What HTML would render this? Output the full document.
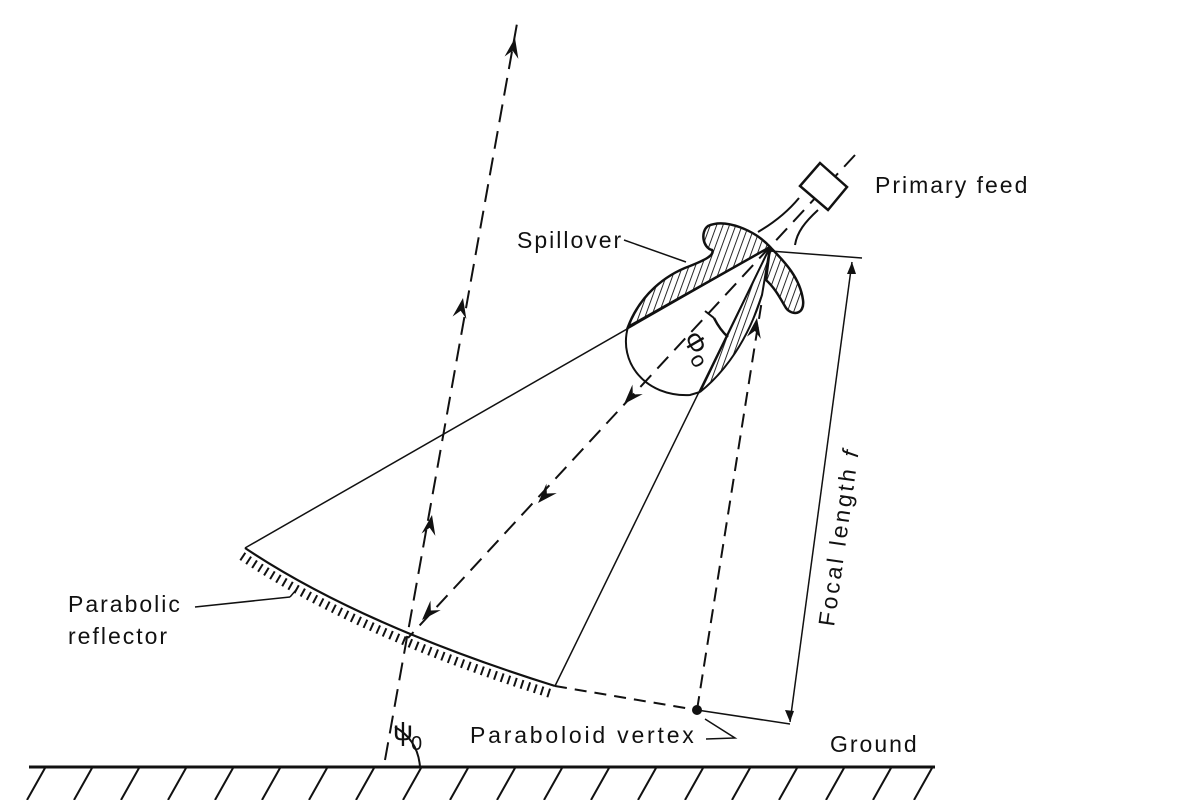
<!DOCTYPE html>
<html><head><meta charset="utf-8"><style>
html,body{margin:0;padding:0;background:#fff;}
svg{display:block;}
text{font-family:"Liberation Sans",sans-serif;fill:#111;}
</style></head><body>
<svg width="1201" height="800" viewBox="0 0 1201 800" xmlns="http://www.w3.org/2000/svg">
<defs>
<pattern id="h" width="6" height="6" patternUnits="userSpaceOnUse" patternTransform="rotate(20)">
<line x1="0" y1="0" x2="0" y2="6" stroke="#111" stroke-width="1.8"/>
</pattern>
<path id="ah" d="M0,0 L-20,-7 L-13,0 L-20,7 Z" fill="#111"/>
</defs>
<g stroke="#111" fill="none">
<line x1="29" y1="767" x2="935" y2="767" stroke-width="3"/>
<g stroke-width="2">
<line x1="45" y1="768" x2="27" y2="800"/><line x1="92" y1="768" x2="74" y2="800"/>
<line x1="139" y1="768" x2="121" y2="800"/><line x1="186" y1="768" x2="168" y2="800"/>
<line x1="233" y1="768" x2="215" y2="800"/><line x1="280" y1="768" x2="262" y2="800"/>
<line x1="327" y1="768" x2="309" y2="800"/><line x1="374" y1="768" x2="356" y2="800"/>
<line x1="421" y1="768" x2="403" y2="800"/><line x1="468" y1="768" x2="450" y2="800"/>
<line x1="515" y1="768" x2="497" y2="800"/><line x1="562" y1="768" x2="544" y2="800"/>
<line x1="609" y1="768" x2="591" y2="800"/><line x1="656" y1="768" x2="638" y2="800"/>
<line x1="703" y1="768" x2="685" y2="800"/><line x1="750" y1="768" x2="732" y2="800"/>
<line x1="797" y1="768" x2="779" y2="800"/><line x1="844" y1="768" x2="826" y2="800"/>
<line x1="891" y1="768" x2="873" y2="800"/><line x1="932" y1="768" x2="914" y2="800"/>
</g>
<path d="M245,548 Q360,625 555,686" stroke-width="2.2"/>
<path d="M242,556 Q357,633 552,694" stroke-width="9" stroke-dasharray="2 5"/>
<path d="M555,686 L697,710" stroke-width="2" stroke-dasharray="12 8"/>
<line x1="697" y1="710" x2="790" y2="724" stroke-width="1.5"/>
<circle cx="697" cy="710" r="4.5" fill="#111"/>
<line x1="770" y1="247" x2="245" y2="548" stroke-width="1.5"/>
<line x1="770" y1="247" x2="555" y2="686" stroke-width="1.5"/>
<line x1="855" y1="155" x2="408" y2="638" stroke-width="2" stroke-dasharray="16 9"/>
<line x1="697" y1="710" x2="762" y2="300" stroke-width="2" stroke-dasharray="14 8"/>
<line x1="385" y1="760" x2="518" y2="18" stroke-width="2" stroke-dasharray="18 9"/>
<path d="M395,727 Q418,740 420,767" stroke-width="2"/>
<line x1="770" y1="251" x2="862" y2="258" stroke-width="1.5"/>
<line x1="852" y1="262" x2="790" y2="722" stroke-width="1.5"/>
<line x1="195" y1="607" x2="290" y2="597" stroke-width="1.5"/>
<line x1="290" y1="597" x2="296" y2="590" stroke-width="1.5"/>
<line x1="624" y1="240" x2="686" y2="262" stroke-width="1.5"/>
<polyline points="705,719 735,738 706,739" stroke-width="1.5"/>
<polygon points="820,163 847,187 828,210 800,186" fill="#fff" stroke-width="2.5"/>
<path d="M799,198 C785,215 770,225 758,232 M818,210 C805,222 797,232 795,245" stroke-width="2"/>
<path d="M628,327 C640,295 665,275 690,266 C705,260 715,255 712,250 C703,248 700,232 708,226 C725,218 755,230 770,247 Z" fill="url(#h)" stroke-width="2.5"/>
<path d="M770,247 C785,262 800,278 803,300 C805,315 792,316 786,308 C780,298 775,288 766,280 Z" fill="url(#h)" stroke-width="2.5"/>
<path d="M770,247 L700,392 C725,372 748,340 762,295 Z" fill="url(#h)" stroke-width="2"/>
<path d="M628,327 C618,362 645,397 690,395 L700,392" stroke-width="2"/>
<path d="M714,318 Q720,330 728,337" stroke-width="2.5"/>
<line x1="705" y1="311" x2="714" y2="318" stroke-width="2"/>
</g>
<use href="#ah" transform="translate(515,38) rotate(-79.8)"/>
<use href="#ah" transform="translate(463,298) rotate(-79.8)"/>
<use href="#ah" transform="translate(432,515) rotate(-79.8)"/>
<use href="#ah" transform="translate(757,318) rotate(-81)"/>
<use href="#ah" transform="translate(624,404) rotate(132.8)"/>
<use href="#ah" transform="translate(538,503) rotate(132.8)"/>
<use href="#ah" transform="translate(422,620) rotate(132.8)"/>
<polygon points="852,262 847,274 856,274" fill="#111"/>
<polygon points="790,722 785,710 794,711" fill="#111"/>
<g font-size="23" letter-spacing="2">
<text x="875" y="193">Primary feed</text>
<text x="517" y="248">Spillover</text>
<text x="68" y="612">Parabolic</text>
<text x="68" y="644">reflector</text>
<text x="470" y="743" letter-spacing="2.8">Paraboloid vertex</text>
<text x="830" y="752">Ground</text>
<text transform="translate(834,627) rotate(-82)" letter-spacing="3">Focal length <tspan font-style="italic">f</tspan></text>
</g>
<text x="393" y="740" font-size="28" font-family="Liberation Serif">ψ</text>
<text x="411" y="750" font-size="20">0</text>
<text transform="translate(682,338) rotate(60)" font-size="27">Φ<tspan font-size="22" dy="4">o</tspan></text>
</svg>
</body></html>
